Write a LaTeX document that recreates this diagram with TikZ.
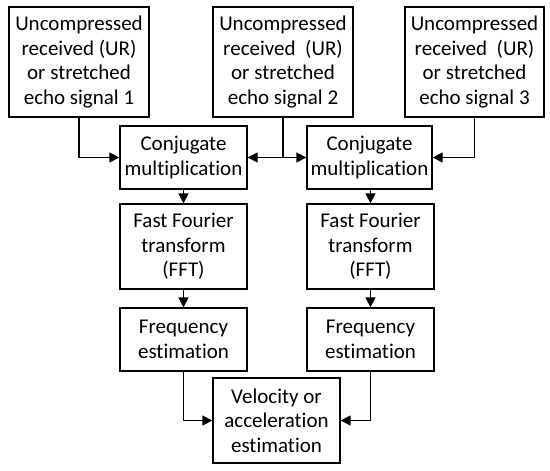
\documentclass[tikz,border=0pt]{standalone}
\usepackage{fontspec}
\setmainfont[Ligatures=NoCommon]{Carlito}
\usetikzlibrary{arrows.meta}
\begin{document}
\begin{tikzpicture}[x=1pt,y=-1pt,
  blk/.style={draw,line width=1.3pt,align=center,inner sep=0pt,font=\fontsize{21}{24.7}\selectfont},
  arr/.style={line width=1.3pt,-{Triangle[length=10pt,width=10pt]}}]
\useasboundingbox (0,0) rectangle (550,471);
\node[blk,minimum width=140pt,minimum height=110pt] (b1) at (79,62) {Uncompressed\\received (UR)\\or stretched\\echo signal 1};
\node[blk,minimum width=140pt,minimum height=110pt] (b2) at (283,62) {Uncompressed\\received\ \ (UR)\\or stretched\\echo signal 2};
\node[blk,minimum width=139pt,minimum height=110pt] (b3) at (474.5,62) {Uncompressed\\received\ \ (UR)\\or stretched\\echo signal 3};
\node[blk,minimum width=127pt,minimum height=63pt] (c1) at (183.5,157.5) {Conjugate\\multiplication};
\node[blk,minimum width=125pt,minimum height=63pt] (c2) at (369.5,157.5) {Conjugate\\multiplication};
\node[blk,minimum width=127pt,minimum height=85pt] (f1) at (183.5,246.5) {Fast Fourier\\transform\\(FFT)};
\node[blk,minimum width=127pt,minimum height=85pt] (f2) at (370.5,246.5) {Fast Fourier\\transform\\(FFT)};
\node[blk,minimum width=127pt,minimum height=63pt] (e1) at (183.5,339.5) {Frequency\\estimation};
\node[blk,minimum width=127pt,minimum height=63pt] (e2) at (370.5,339.5) {Frequency\\estimation};
\node[blk,minimum width=127pt,minimum height=85pt] (v) at (276.5,420.5) {Velocity or\\acceleration\\estimation};
\draw[arr] (b1.south) |- (c1.west);
\draw[arr] (b2.south) |- (c1.east);
\draw[arr] (b2.south) |- (c2.west);
\draw[arr] (b3.south) |- (c2.east);
\draw[arr] (c1) -- (f1);
\draw[arr] (c2.south -| f2) -- (f2);
\draw[arr] (f1) -- (e1);
\draw[arr] (f2) -- (e2);
\draw[arr] (e1.south) |- (v.west);
\draw[arr] (e2.south) |- (v.east);
\end{tikzpicture}
\end{document}
